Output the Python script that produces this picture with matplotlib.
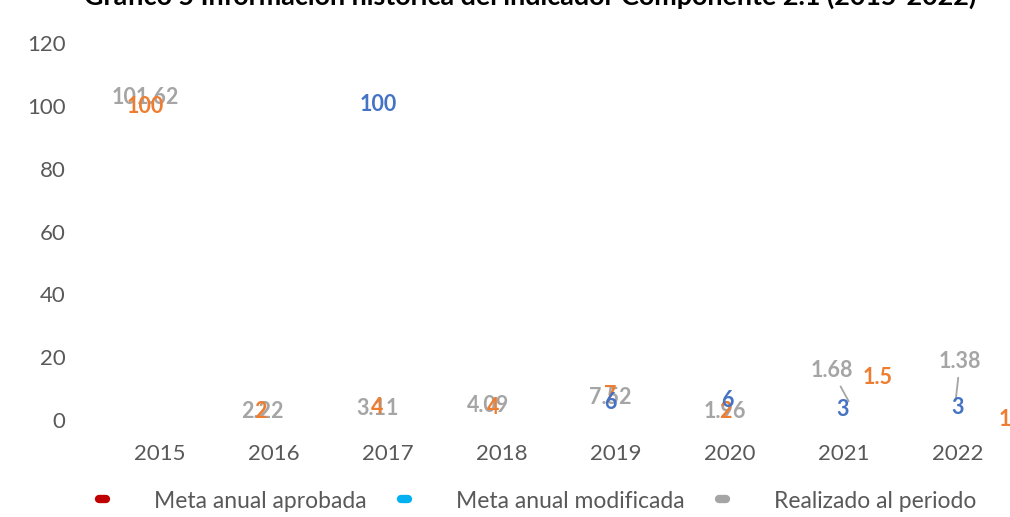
import matplotlib
matplotlib.use("Agg")
import matplotlib.pyplot as plt
from matplotlib.lines import Line2D

# data
years = ["2015", "2016", "2017", "2018", "2019", "2020", "2021", "2022"]
meta_aprobada = [100, 2, 4, 4, 7, 2, 1.5, 1]
meta_modificada = [None, None, 100, None, 6, 6, 3, 3]
realizado = [101.62, 2.22, 3.11, 4.09, 7.52, 1.96, 1.68, 1.38]

# label offsets (pixels, dx, dy) as placed in the original
off_aprob = [(-15, -1), (-14, 2), (-11, 0), (-9, 0), (-6, 3), (-5, 2), (34, 38), (47, -3)]
off_modif = [None, None, (-10, 1), None, (-6, -1), (-3, 1), (-1, 1), (0, 3)]
off_real = [(-15, 3), (-12, 2), (-10, 2), (-14, 2), (-6, -1), (-5, 2), (-12, 44), (2, 54)]
# leader line end shift (pixels) for the labels moved away from their point
leader_real = [None] * 6 + [12, -4]

c_aprob, c_modif, c_real = "#ED7D31", "#4472C4", "#A5A5A5"
txt = "#595959"
plt.rcParams["font.family"] = ["Lato", "DejaVu Sans"]

fig = plt.figure(figsize=(10.1, 5.17), dpi=100)
fig.patch.set_facecolor("white")
ax = fig.add_axes([103 / 1010, 97 / 517, 912 / 1010, 377 / 517])

x = list(range(len(years)))
ax.plot(x, meta_aprobada, linestyle="none")
ax.plot(x, realizado, linestyle="none")
ax.set_xlim(-0.5, 7.5)
ax.set_ylim(0, 120)
ax.set_yticks(range(0, 121, 20))
ax.set_xticks(x)
ax.set_xticklabels(years)
ax.tick_params(axis="x", length=0, pad=17, labelsize=16, labelcolor=txt)
ax.tick_params(axis="y", length=0, pad=27, labelsize=16, labelcolor=txt)
for s in ax.spines.values():
    s.set_visible(False)

px = 0.72  # pixels -> points


def put(vals, offs, color, leaders=None):
    for i, (v, o) in enumerate(zip(vals, offs)):
        if v is None:
            continue
        lab = "%g" % v
        kw = {}
        dx, dy = o
        xy = (i, v)
        if leaders and leaders[i] is not None:
            sh = leaders[i]
            kw["arrowprops"] = dict(arrowstyle="-", color=c_real, lw=1.3,
                                    shrinkA=2, shrinkB=11)
            xy = (i + sh / 114, v)
            dx = dx - sh
        ax.annotate(lab, xy, xytext=(dx * px, dy * px),
                    textcoords="offset points", ha="center", va="center",
                    fontsize=15.5, fontweight="bold", color=color,
                    annotation_clip=False, **kw)


put(realizado, off_real, c_real, leader_real)
put(meta_aprobada, off_aprob, c_aprob)
put(meta_modificada, off_modif, c_modif)

fig.text(530 / 1010, 1 - 5 / 517, "Gráfico 5 Información histórica del indicador Componente 2.1 (2015-2022)",
         ha="center", va="baseline", fontsize=19.4, fontweight="bold", color="black")

handles = [Line2D([], [], color=c, lw=6, solid_capstyle="round")
           for c in ["#C00000", "#00B0F0", "#A5A5A5"]]
leg = fig.legend(handles, ["Meta anual aprobada", "Meta anual modificada", "Realizado al periodo"],
                 loc="center", bbox_to_anchor=(538 / 1010, 1 - 501 / 517), ncol=3, frameon=False,
                 fontsize=16.5, handlelength=0.3, handletextpad=2.1, columnspacing=1.5)
for t in leg.get_texts():
    t.set_color(txt)

plt.savefig("out.png", dpi=100)
